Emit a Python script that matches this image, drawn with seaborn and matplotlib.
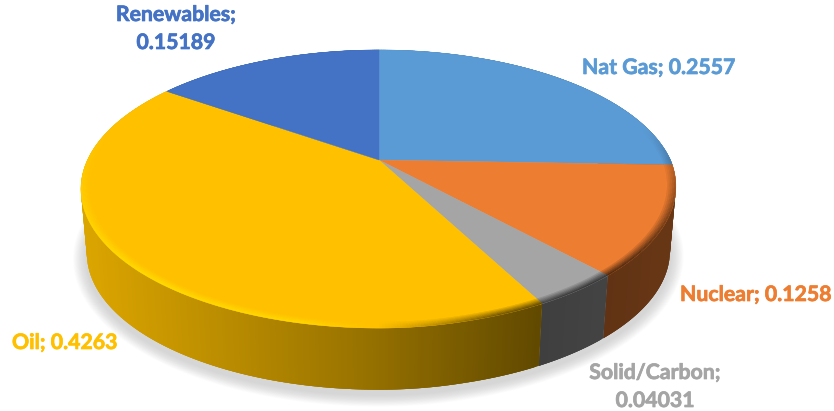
import numpy as np
import matplotlib
matplotlib.use("Agg")
import matplotlib.pyplot as plt
import matplotlib.patheffects as pe
from matplotlib.collections import PolyCollection
from matplotlib.colors import to_rgb
import seaborn as sns

# Energy mix shares, clockwise from twelve o'clock
categories = ["Nat Gas", "Nuclear", "Solid/Carbon", "Oil", "Renewables"]
shares = [0.2557, 0.1258, 0.04031, 0.4263, 0.15189]
share_labels = ["0.2557", "0.1258", "0.04031", "0.4263", "0.15189"]
palette_hex = ["#5B9BD5", "#ED7D31", "#A5A5A5", "#FFC000", "#4472C4"]

sns.set_theme(style="white")
palette = sns.color_palette(palette_hex)
plt.rcParams["font.family"] = ["Lato", "DejaVu Sans"]

WIDTH, HEIGHT = 834, 411
CX, CY = 379.0, 160.0
SX, SY = 291.5, 133.0
TILT = 0.2086
SKEW = 6.0
DEPTH = 65.0
BASE_SCALE = 0.98


def project(theta, radius=1.0, drop=0.0, scale=1.0):
    """Perspective view of a disc point; theta runs clockwise from the back."""
    u = radius * np.sin(theta)
    v = radius * np.cos(theta)
    w = 1 + TILT * v
    lean = SKEW * np.minimum(v, 0) * np.clip(u * 4, 0, 1)
    return CX + scale * (SX * u / w + lean), CY + drop - scale * SY * v / w


def side_light(x):
    return np.interp(x, [85, 360, 540, 680], [0.86, 0.60, 0.38, 0.44])


fig = plt.figure(figsize=(WIDTH / 100, HEIGHT / 100), dpi=100)
ax = fig.add_axes([0, 0, 1, 1])
ax.set_xlim(0, WIDTH)
ax.set_ylim(HEIGHT, 0)
ax.axis("off")

edges = 2 * np.pi * np.concatenate([[0], np.cumsum(shares)]) / np.sum(shares)
ring = np.linspace(0, 2 * np.pi, 361)

# Soft shadow under the disc
for spread in np.linspace(14, 1, 16):
    sx, sy = project(ring, drop=DEPTH + 5, scale=BASE_SCALE)
    px = CX + (sx - CX) * (1 + spread / 295)
    py = (CY + DEPTH + 25) + (sy - (CY + DEPTH + 25)) * (1 + spread / 170)
    ax.fill(px, py, color="#808080", alpha=0.02, lw=0, zorder=1)

# Side wall per wedge; slices overlap so no seams show between them
for start, stop, base in zip(edges[:-1], edges[1:], palette):
    steps = max(int(np.degrees(stop - start)), 2) * 2
    angles = np.linspace(start, stop, steps + 1)
    step = angles[1] - angles[0]
    quads, quad_colors = [], []
    for a0, a1 in zip(angles[:-1], angles[1:]):
        over = min(a1 + 2 * step, stop)
        x0, y0 = project(a0)
        x1, y1 = project(over)
        x2, y2 = project(over, drop=DEPTH, scale=BASE_SCALE)
        x3, y3 = project(a0, drop=DEPTH, scale=BASE_SCALE)
        xm, _ = project((a0 + a1) / 2)
        quads.append([(x0, y0), (x1, y1), (x2, y2), (x3, y3)])
        quad_colors.append(np.array(base) * side_light(xm))
    ax.add_collection(PolyCollection(quads, facecolors=quad_colors, edgecolors="none",
                                     linewidths=0, zorder=2))

# Top face
for start, stop, base in zip(edges[:-1], edges[1:], palette):
    angles = np.linspace(start, stop, 200)
    x, y = project(angles)
    ax.fill(np.r_[CX, x], np.r_[CY, y], color=base, lw=0.3, ec=base, zorder=3)

# Bevel around the front rim: bright on the left, dark on the right
rim_quads, rim_colors = [], []
radii = np.linspace(0.972, 1.0, 6)
for start, stop, base in zip(edges[:-1], edges[1:], palette):
    steps = max(int(np.degrees(stop - start)), 2) * 2
    angles = np.linspace(start, stop, steps + 1)
    base = np.array(base)
    for a0, a1 in zip(angles[:-1], angles[1:]):
        mid = (a0 + a1) / 2
        front = np.clip(0.25 - np.cos(mid), 0, 1)
        xm, _ = project(mid)
        along = np.interp(xm, [85, 300, 500, 680], [0.45, 0.35, -0.55, -0.75])
        for i, (r0, r1) in enumerate(zip(radii[:-1], radii[1:])):
            weight = (i + 1) / (len(radii) - 1) * front * along
            if weight >= 0:
                highlight = np.array(to_rgb("#FFE800")) if base[2] < 0.1 else np.ones(3)
                shade = base + (highlight - base) * min(weight * 1.6, 1)
            else:
                shade = base * (1 + weight)
            xa, ya = project(a0, r0)
            xb, yb = project(a1, r0)
            xc, yc = project(a1, r1)
            xd, yd = project(a0, r1)
            rim_quads.append([(xa, ya), (xb, yb), (xc, yc), (xd, yd)])
            rim_colors.append(shade)
ax.add_collection(PolyCollection(rim_quads, facecolors=rim_colors, edgecolors=rim_colors,
                                 linewidths=0.2, zorder=4))

# Data labels: "name; value", wrapped on two lines for the long names
label_style = dict(fontsize=15.3, fontweight="bold", zorder=5, va="center")


def add_label(x, y, text, color, ha):
    item = ax.text(x, y, text, color=color, ha=ha, linespacing=1.5, **label_style)
    item.set_path_effects([pe.withStroke(linewidth=0.5, foreground=color)])


add_label(176, 29, f"{categories[4]};\n{share_labels[4]}", palette[4], "center")
add_label(582, 68, f"{categories[0]}; {share_labels[0]}", palette[0], "left")
add_label(680, 295, f"{categories[1]}; {share_labels[1]}", palette[1], "left")
add_label(12, 343, f"{categories[3]}; {share_labels[3]}", palette[3], "left")
add_label(655, 387, f"{categories[2]};\n{share_labels[2]}", palette[2], "center")

fig.savefig("out.png", dpi=100, facecolor="white")
